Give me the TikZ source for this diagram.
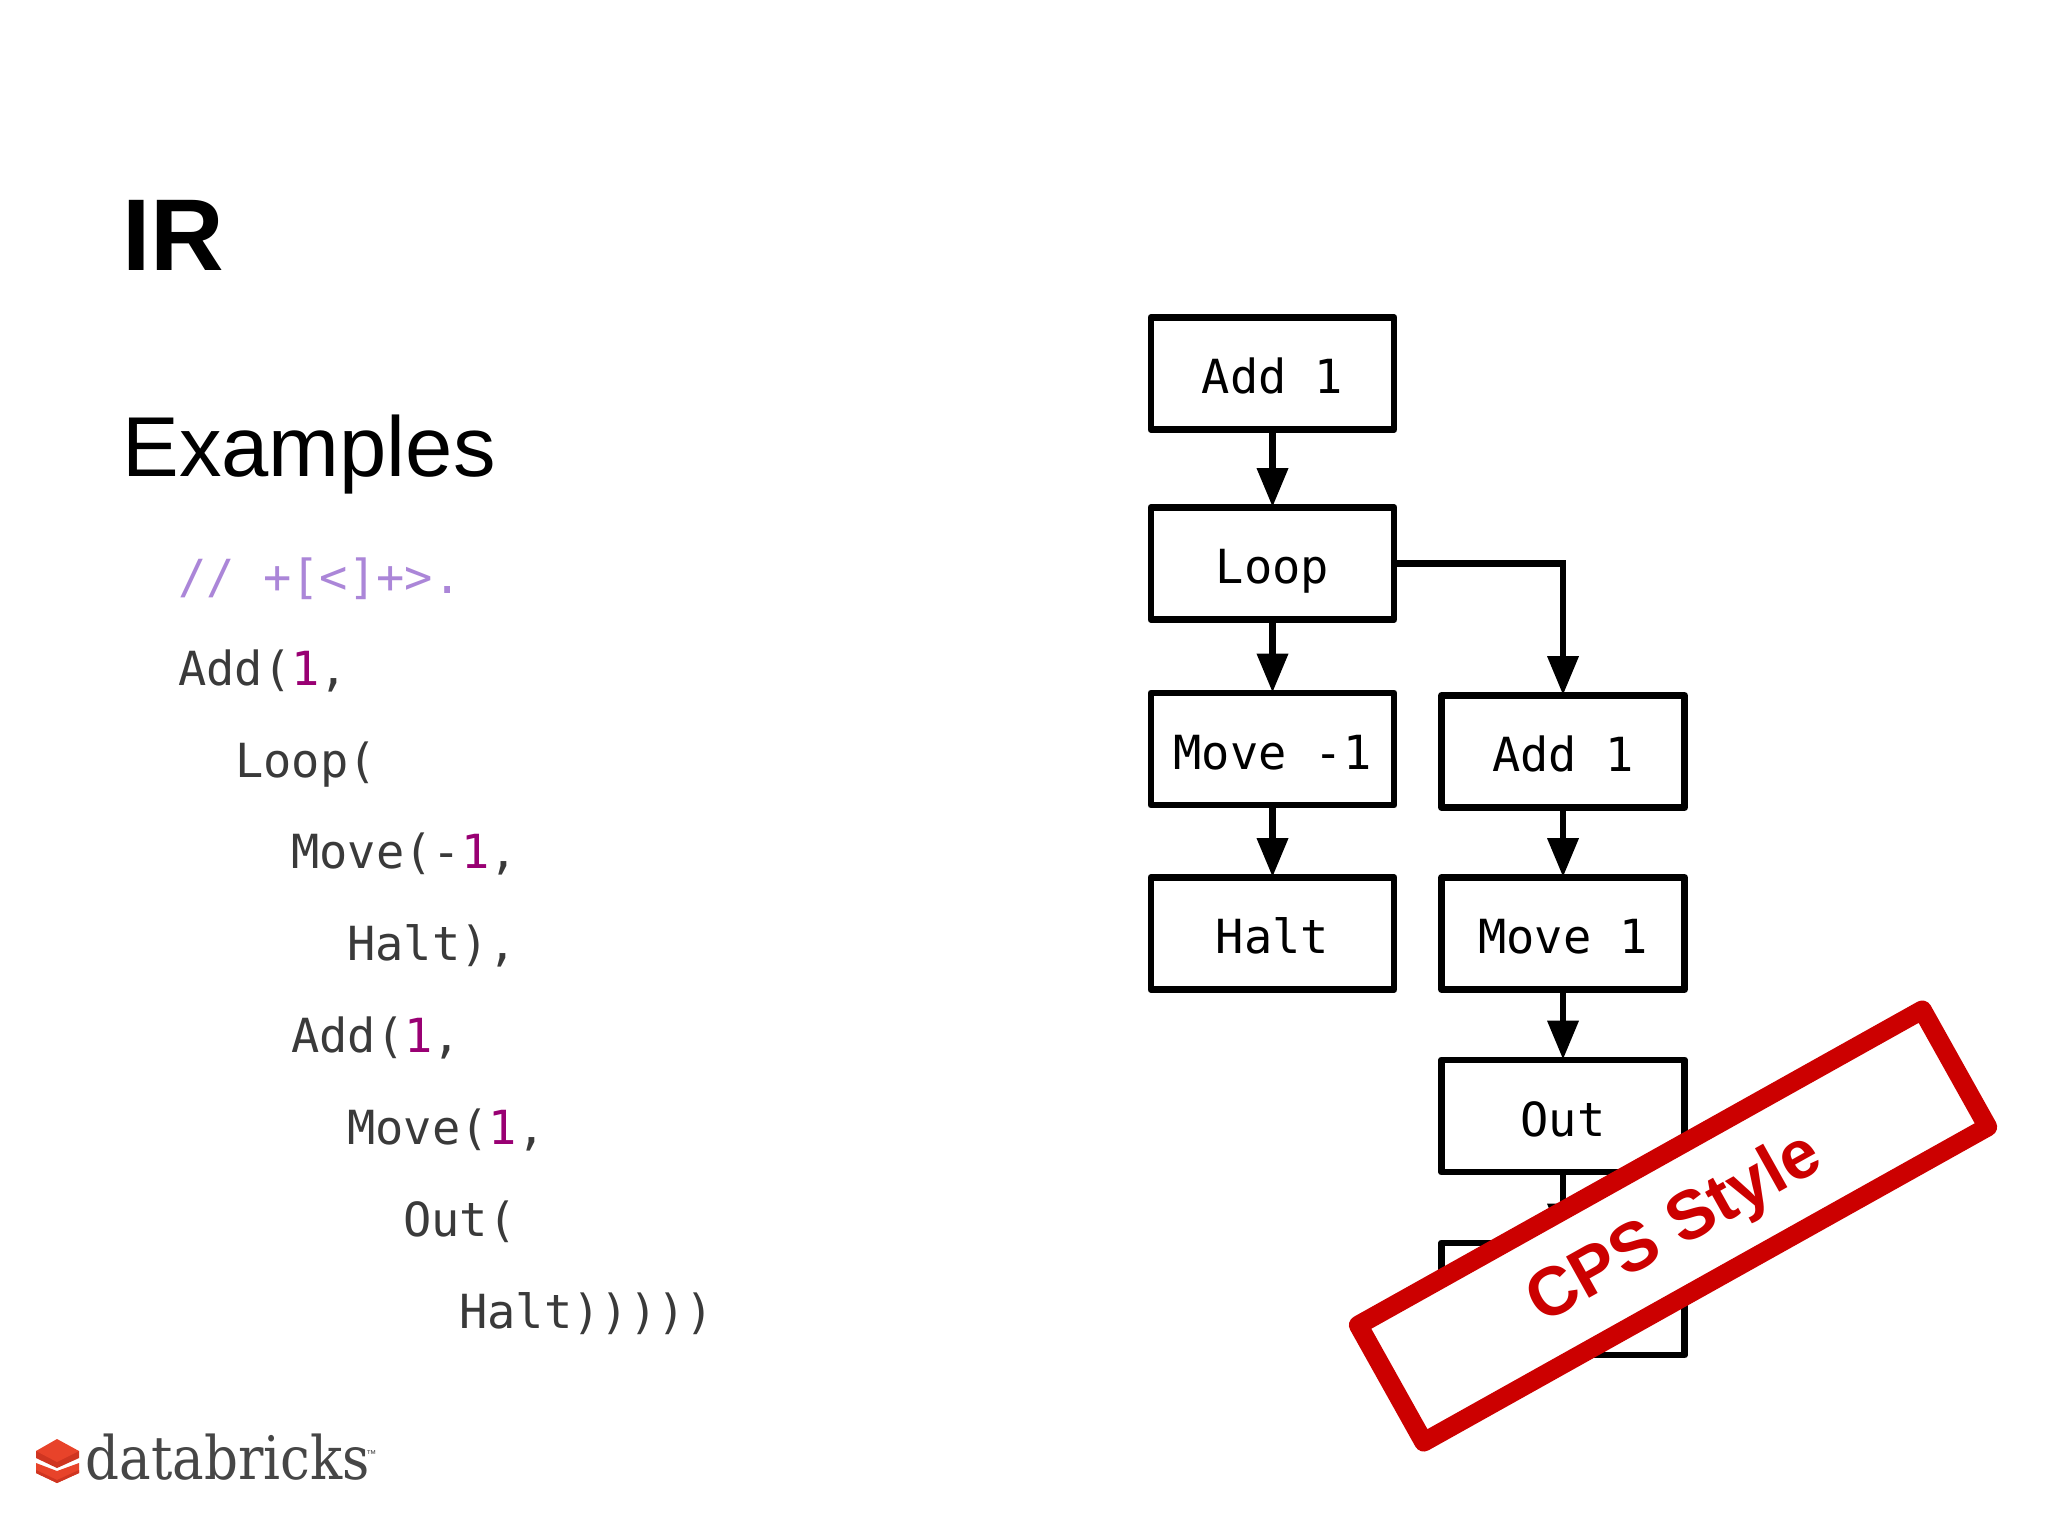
\documentclass[tikz,border=0pt]{standalone}
\usepackage{fontspec}
\usepackage{graphicx}
\usetikzlibrary{arrows.meta}
\setmainfont{Liberation Sans}
\newfontfamily\codefont{DejaVu Sans Mono}
\newfontfamily\logofont{DejaVu Serif}
\definecolor{cmt}{HTML}{AB86D8}
\definecolor{numc}{HTML}{990073}
\definecolor{codec}{HTML}{3A3A3A}
\definecolor{stampred}{HTML}{CC0000}
\definecolor{logotop}{HTML}{E8432A}
\definecolor{logoside}{HTML}{CF3521}
\definecolor{logotext}{HTML}{464646}
\tikzset{
  flowbox/.style={draw=black,line width=3.4pt,line join=round,fill=white,minimum width=121.5pt,minimum height=56pt,inner sep=0pt,
    font=\codefont\fontsize{23.5}{23.5}\selectfont,text height=20pt,text depth=0pt},
  flowarrow/.style={line width=3.4pt,shorten >=-1.5pt,-{Triangle[length=19.5pt,width=15pt]}},
  codeline/.style={anchor=base west,inner sep=0pt,font=\codefont\fontsize{23.5}{23.5}\selectfont,text=codec}
}
\newcommand{\nm}[1]{\textcolor{numc}{#1}}
\begin{document}
\begin{tikzpicture}[x=0.5pt,y=-0.5pt]
\useasboundingbox (0,0) rectangle (2048,1536);
% headings
\node[anchor=base west,inner sep=0pt,font=\bfseries\fontsize{51}{51}\selectfont] (title) at (122,270) {IR};
\node[anchor=base west,inner sep=0pt,font=\fontsize{42.5}{42.5}\selectfont] (examples) at (122,476) {Examples};
% code
\node[codeline,text=cmt] (c0) at (178,593) {// +[<]+>.};
\node[codeline] (c1) at (178,685) {Add(\nm{1},};
\node[codeline] (c2) at (235,777) {Loop(};
\node[codeline] (c3) at (291,868.5) {Move(-\nm{1},};
\node[codeline] (c4) at (347,960) {Halt),};
\node[codeline] (c5) at (291,1052) {Add(\nm{1},};
\node[codeline] (c6) at (347,1144) {Move(\nm{1},};
\node[codeline] (c7) at (403,1236) {Out(};
\node[codeline] (c8) at (459,1328) {Halt)))))};
% flow
\node[flowbox] (add)   at (1272.5,373.5) {Add 1};
\node[flowbox] (loop)  at (1272.5,563.5) {Loop};
\node[flowbox] (movem) at (1272.5,749) {Move -1};
\node[flowbox] (halt)  at (1272.5,933.5) {Halt};
\node[flowbox] (addb)  at (1563,751.5) {Add 1};
\node[flowbox] (moveb) at (1563,933.5) {Move 1};
\node[flowbox] (out)   at (1563,1116) {Out};
\node[flowbox] (last)  at (1563,1299) {};
\draw[flowarrow] (add) -- (loop);
\draw[flowarrow] (loop) -- (movem);
\draw[flowarrow] (movem) -- (halt);
\draw[flowarrow] (loop.east) -| (addb.north);
\draw[flowarrow] (addb) -- (moveb);
\draw[flowarrow] (moveb) -- (out);
\draw[flowarrow] (out) -- (last);
% stamp
\node[draw=stampred,line width=9.5pt,line join=round,fill=white,rotate=29.2,minimum width=323pt,minimum height=67pt,inner sep=0pt,
  text=stampred,font=\bfseries\fontsize{34.3}{34.3}\selectfont,text height=30pt,text depth=7.5pt] (stamp) at (1673,1226) {CPS Style};
% logo
\fill[logotop] (36,1463) -- (57,1471) -- (79,1463) -- (79,1473) -- (57,1483) -- (36,1473) -- cycle;
\fill[logoside] (36,1470) -- (57,1480) -- (79,1470) -- (79,1473) -- (57,1483) -- (36,1473) -- cycle;
\fill[logoside] (36,1451) -- (36,1458) -- (57,1468) -- (79,1458) -- (79,1451) -- cycle;
\fill[logotop] (57,1439) -- (79,1451) -- (57,1462) -- (36,1451) -- cycle;
\node[anchor=base west,inner sep=0pt,text=logotext,font=\logofont\fontsize{30}{30}\selectfont] (logo) at (85,1479) {\scalebox{.885}[1]{databricks}};
\node[anchor=base west,inner sep=0pt,text=logotext,font=\fontsize{5}{5}\selectfont] (tm) at (366,1457) {™};
\end{tikzpicture}
\end{document}
